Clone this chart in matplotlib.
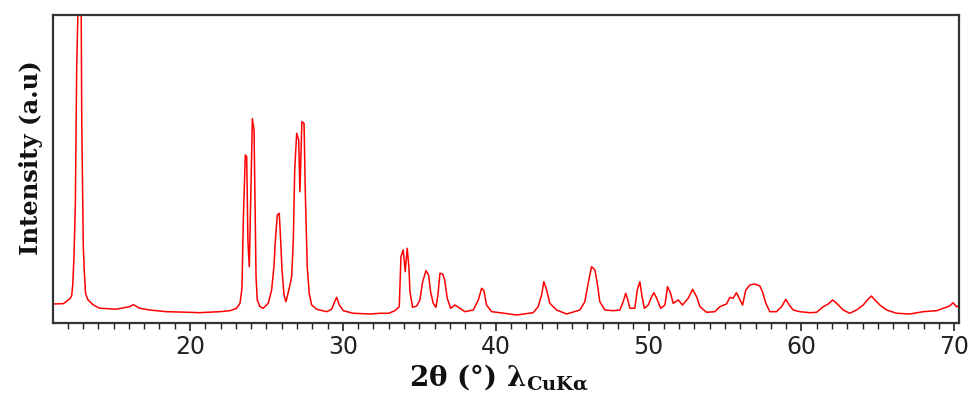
import matplotlib
matplotlib.use('Agg')
import matplotlib.pyplot as plt
from matplotlib.ticker import MultipleLocator

# XRD pattern (2theta in deg, intensity in arbitrary units)
two_theta = [
    11.02, 11.71, 12.15, 12.26, 12.33, 12.41, 12.50, 12.59, 12.67, 12.81,
    12.88, 12.92, 13.02, 13.09, 13.17, 13.32, 13.65, 14.08, 15.17, 16.04,
    16.30, 16.70, 17.35, 18.44, 19.96, 20.60, 21.96, 22.62, 23.05, 23.27,
    23.40, 23.49, 23.62, 23.71, 23.79, 23.88, 23.97, 24.08, 24.19, 24.25,
    24.32, 24.40, 24.58, 24.79, 25.12, 25.34, 25.49, 25.58, 25.71, 25.84,
    25.93, 26.02, 26.15, 26.28, 26.41, 26.54, 26.65, 26.76, 26.85, 26.98,
    27.11, 27.19, 27.32, 27.46, 27.54, 27.67, 27.80, 27.96, 28.29, 28.94,
    29.27, 29.42, 29.59, 29.77, 30.03, 30.68, 31.77, 32.43, 33.00, 33.41,
    33.69, 33.80, 33.95, 34.08, 34.21, 34.32, 34.39, 34.56, 34.83, 35.04,
    35.22, 35.44, 35.61, 35.74, 35.91, 36.09, 36.22, 36.35, 36.53, 36.66,
    36.83, 37.05, 37.33, 37.66, 37.99, 38.53, 38.86, 39.08, 39.23, 39.40,
    39.73, 40.27, 41.37, 42.45, 42.78, 43.00, 43.15, 43.33, 43.54, 43.98,
    44.64, 45.51, 45.83, 46.05, 46.27, 46.49, 46.64, 46.81, 47.14, 47.69,
    48.12, 48.34, 48.50, 48.63, 48.78, 49.10, 49.26, 49.43, 49.56, 49.72,
    49.98, 50.20, 50.35, 50.53, 50.79, 51.07, 51.24, 51.44, 51.61, 51.94,
    52.22, 52.59, 52.88, 53.14, 53.36, 53.79, 54.34, 54.66, 55.10, 55.32,
    55.53, 55.75, 55.93, 56.15, 56.36, 56.63, 56.95, 57.28, 57.45, 57.67,
    57.93, 58.37, 58.70, 58.98, 59.20, 59.46, 59.90, 60.55, 60.99, 61.43,
    61.75, 62.04, 62.30, 62.73, 63.16, 63.60, 64.04, 64.36, 64.58, 64.80,
    65.13, 65.57, 66.23, 67.09, 67.96, 68.84, 69.27, 69.70, 69.92, 70.14,
    70.27,
]
intensity = [
    18.7, 19.0, 24.0, 27.0, 38.0, 66.0, 118.0, 258.0, 310.0, 330.0,
    320.0, 199.0, 76.0, 50.0, 29.0, 23.0, 18.0, 14.5, 13.5, 16.0,
    18.0, 14.5, 12.7, 11.0, 10.4, 10.0, 11.0, 12.0, 14.4, 19.4,
    34.4, 104.4, 167.7, 166.0, 81.0, 56.0, 121.0, 204.0, 192.7, 122.7,
    46.0, 22.7, 16.0, 14.4, 19.4, 32.7, 56.0, 81.0, 107.7, 109.4,
    82.7, 52.7, 27.7, 21.0, 29.4, 37.7, 46.0, 82.7, 152.7, 189.4,
    182.7, 131.0, 201.0, 199.4, 132.7, 56.0, 29.4, 17.7, 13.4, 11.0,
    13.4, 19.4, 25.4, 17.7, 12.0, 9.4, 8.7, 9.4, 9.4, 12.0,
    16.0, 66.0, 72.7, 51.0, 74.4, 56.0, 31.0, 15.4, 16.7, 22.7,
    41.0, 52.0, 47.7, 31.0, 19.4, 15.4, 27.7, 49.4, 48.7, 42.7,
    24.4, 14.4, 17.7, 14.4, 11.0, 12.7, 22.7, 34.4, 32.0, 17.7,
    11.0, 10.0, 7.7, 10.0, 16.0, 27.7, 41.0, 32.7, 19.4, 12.7,
    8.7, 12.7, 21.0, 39.4, 56.0, 52.7, 39.4, 21.0, 12.7, 12.0,
    12.7, 21.0, 29.4, 23.4, 14.4, 14.4, 32.7, 41.0, 27.7, 14.4,
    17.7, 26.0, 30.0, 24.4, 14.4, 17.7, 36.0, 29.4, 19.4, 22.7,
    17.7, 24.4, 33.4, 26.0, 16.0, 10.4, 11.0, 16.0, 18.7, 25.4,
    24.4, 30.0, 24.4, 17.7, 32.7, 37.7, 38.7, 36.7, 31.0, 19.4,
    11.0, 11.0, 16.0, 23.4, 17.7, 12.7, 11.0, 10.0, 10.4, 16.0,
    18.7, 22.7, 19.4, 12.7, 9.4, 12.7, 17.7, 23.4, 26.7, 22.7,
    17.7, 12.7, 9.4, 8.7, 11.0, 12.0, 14.4, 16.7, 20.0, 16.0,
    16.7,
]
x_ticks = [20, 30, 40, 50, 60, 70]

plt.rcParams['mathtext.fontset'] = 'custom'
plt.rcParams['mathtext.rm'] = 'DejaVu Serif'
plt.rcParams['mathtext.bf'] = 'DejaVu Serif:bold'

fig = plt.figure(figsize=(9.71, 4.01), dpi=100)
ax = fig.add_axes([0.0543, 0.1953, 0.9337, 0.7665])

ax.plot(two_theta, intensity, color='#ff0000', lw=1.1)

ax.set_xlim(11.02, 70.33)
ax.set_ylim(0, 307.4)

# ticks only on the bottom, minor every degree
ax.set_xticks(x_ticks)
ax.xaxis.set_minor_locator(MultipleLocator(1))
ax.tick_params(axis='x', which='major', direction='out', length=6, width=1.2,
               color='#222222', labelsize=17, labelcolor='#222222', pad=3)
ax.tick_params(axis='x', which='minor', direction='out', length=4, width=1.0,
               color='#222222')
ax.set_yticks([])

for sp in ax.spines.values():
    sp.set_color('#333333')
    sp.set_linewidth(1.6)

ax.set_ylabel('Intensity (a.u)', fontsize=17.5, fontweight='bold',
              family='DejaVu Serif', color='#111111')
ax.yaxis.set_label_coords(-0.011, 0.536)

ax.set_xlabel(r'2θ (°) λ$_{\mathbf{CuKα}}$', fontsize=20, fontweight='bold',
              family='DejaVu Serif', color='#111111')
ax.xaxis.set_label_coords(0.492, -0.128)

fig.savefig('out.png', dpi=100)
